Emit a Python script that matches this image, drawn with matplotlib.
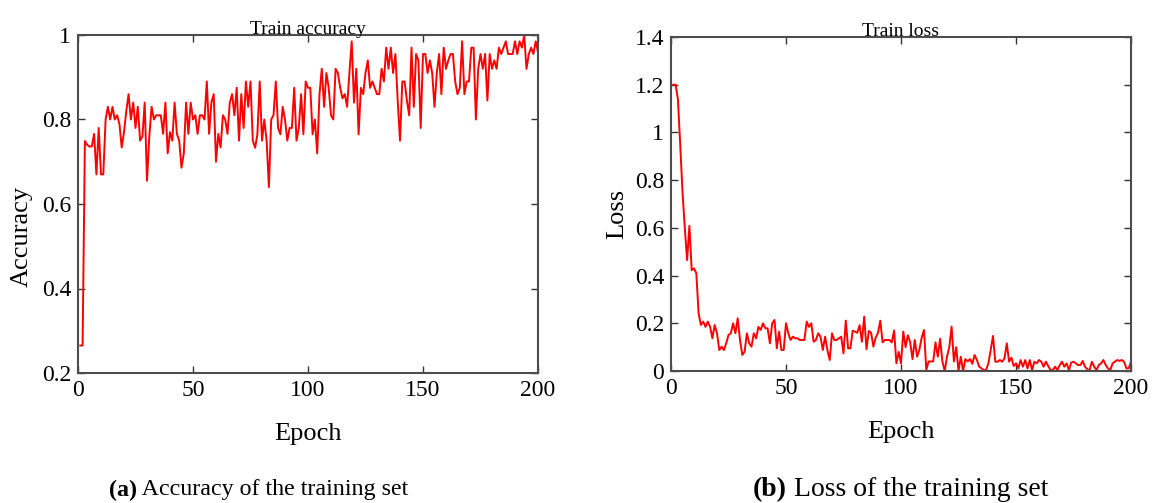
import matplotlib
matplotlib.use("Agg")
import matplotlib.pyplot as plt

plt.rcParams['font.family'] = ['Liberation Serif', 'DejaVu Serif']

acc = [0.265, 0.265, 0.749, 0.74, 0.736, 0.736, 0.766, 0.67, 0.78, 0.67,
       0.67, 0.80, 0.83, 0.80, 0.83, 0.80, 0.81, 0.79, 0.734, 0.77,
       0.82, 0.86, 0.80, 0.84, 0.78, 0.83, 0.75, 0.76, 0.84, 0.655,
       0.76, 0.83, 0.80, 0.81, 0.81, 0.81, 0.766, 0.84, 0.72, 0.77,
       0.75, 0.84, 0.766, 0.75, 0.686, 0.72, 0.84, 0.766, 0.84, 0.80,
       0.81, 0.766, 0.81, 0.81, 0.80, 0.89, 0.766, 0.84, 0.86, 0.70,
       0.766, 0.734, 0.81, 0.80, 0.766, 0.84, 0.86, 0.81, 0.875, 0.75,
       0.86, 0.78, 0.89, 0.83, 0.89, 0.75, 0.733, 0.765, 0.89, 0.75,
       0.80, 0.75, 0.64, 0.80, 0.81, 0.89, 0.78, 0.765, 0.83, 0.80,
       0.75, 0.78, 0.78, 0.875, 0.75, 0.78, 0.86, 0.765, 0.89, 0.875,
       0.875, 0.765, 0.80, 0.72, 0.86, 0.92, 0.83, 0.91, 0.875, 0.81,
       0.80, 0.92, 0.91, 0.875, 0.85, 0.86, 0.83, 0.91, 0.985, 0.84,
       0.92, 0.765, 0.875, 0.86, 0.91, 0.94, 0.875, 0.89, 0.875, 0.86,
       0.86, 0.92, 0.89, 0.97, 0.92, 0.97, 0.91, 0.955, 0.845, 0.75,
       0.89, 0.89, 0.845, 0.81, 0.97, 0.83, 0.955, 0.94, 0.78, 0.955,
       0.955, 0.91, 0.94, 0.91, 0.83, 0.91, 0.955, 0.86, 0.97, 0.92,
       0.94, 0.955, 0.955, 0.89, 0.86, 0.875, 0.985, 0.86, 0.89, 0.89,
       0.97, 0.97, 0.80, 0.92, 0.955, 0.92, 0.955, 0.845, 0.955, 0.92,
       0.94, 0.92, 0.97, 0.955, 0.97, 0.985, 0.955, 0.955, 0.955, 0.985,
       0.955, 0.985, 0.97, 1.0, 0.92, 0.955, 0.97, 0.955, 0.985, 0.96]

loss = [1.2, 1.2, 1.14, 0.95, 0.75, 0.60, 0.465, 0.608, 0.423, 0.43,
        0.41, 0.242, 0.193, 0.207, 0.185, 0.207, 0.185, 0.137, 0.193, 0.158,
        0.088, 0.102, 0.088, 0.116, 0.151, 0.158, 0.2, 0.158, 0.221, 0.13,
        0.067, 0.081, 0.158, 0.116, 0.102, 0.158, 0.137, 0.185, 0.172, 0.2,
        0.179, 0.179, 0.116, 0.2, 0.214, 0.095, 0.165, 0.088, 0.088, 0.2,
        0.158, 0.13, 0.144, 0.137, 0.137, 0.13, 0.13, 0.13, 0.207, 0.185,
        0.2, 0.123, 0.13, 0.158, 0.144, 0.088, 0.144, 0.088, 0.046, 0.158,
        0.13, 0.13, 0.137, 0.144, 0.074, 0.211, 0.095, 0.095, 0.169, 0.165,
        0.16, 0.192, 0.123, 0.228, 0.091, 0.168, 0.16, 0.102, 0.14, 0.16,
        0.211, 0.12, 0.13, 0.13, 0.13, 0.12, 0.17, 0.032, 0.08, 0.032,
        0.165, 0.10, 0.15, 0.12, 0.05, 0.13, 0.06, 0.09, 0.14, 0.172,
        0.004, 0.04, 0.04, 0.04, 0.12, 0.06, 0.135, 0.04, 0.0, 0.06,
        0.10, 0.186, 0.04, 0.10, 0.0, 0.06, 0.0, 0.05, 0.04, 0.05,
        0.03, 0.067, 0.046, 0.018, 0.011, 0.004, 0.004, 0.032, 0.088, 0.147,
        0.039, 0.039, 0.046, 0.039, 0.053, 0.116, 0.039, 0.056, 0.021, 0.032,
        0.011, 0.046, 0.018, 0.046, 0.011, 0.046, 0.004, 0.039, 0.032, 0.046,
        0.039, 0.018, 0.039, 0.021, 0.004, 0.004, 0.018, 0.004, 0.025, 0.039,
        0.018, 0.032, 0.004, 0.035, 0.039, 0.032, 0.025, 0.025, 0.042, 0.018,
        0.007, 0.004, 0.039, 0.018, 0.004, 0.025, 0.032, 0.046, 0.025, 0.011,
        0.004, 0.032, 0.039, 0.046, 0.042, 0.046, 0.039, 0.011, 0.011, 0.039]

epochs = list(range(1, len(acc) + 1))
epochs_loss = list(range(1, len(loss) + 1))

acc_yticks = [0.2, 0.4, 0.6, 0.8, 1.0]
acc_yticklabels = ['0.2', '0.4', '0.6', '0.8', '1']
loss_yticks = [0, 0.2, 0.4, 0.6, 0.8, 1.0, 1.2, 1.4]
loss_yticklabels = ['0', '0.2', '0.4', '0.6', '0.8', '1', '1.2', '1.4']
xticks = [0, 50, 100, 150, 200]

W, H = 1153, 503
fig = plt.figure(figsize=(W / 100, H / 100), dpi=100)

ax1 = fig.add_axes([78 / W, (H - 373) / H, 460 / W, 338 / H])
ax2 = fig.add_axes([671 / W, (H - 371) / H, 460 / W, 334 / H])

spine_color = '#4d4d4d'
for ax in (ax1, ax2):
    for s in ax.spines.values():
        s.set_color(spine_color)
        s.set_linewidth(1.5)
    ax.tick_params(direction='in', top=True, right=True, length=5,
                   width=1.0, color='#333333', labelsize=17, pad=5)
    ax.set_xticks(xticks)
    ax.set_xlim(0, 200)

ax1.plot(epochs, acc, color='#ff0000', lw=1.4)
ax1.set_ylim(0.2, 1.0)
ax1.set_yticks(acc_yticks)
ax1.set_yticklabels(acc_yticklabels)
ax1.set_title('Train accuracy', fontsize=14, pad=1)
ax1.set_xlabel('Epoch', fontsize=19, labelpad=16)
ax1.set_ylabel('Accuracy', fontsize=19)
ax1.yaxis.set_label_coords(-0.098, 0.405)

ax2.plot(epochs_loss, loss, color='#ff0000', lw=1.4)
ax2.set_ylim(0, 1.4)
ax2.set_yticks(loss_yticks)
ax2.set_yticklabels(loss_yticklabels)
ax2.set_title('Train loss', fontsize=14, pad=1)
ax2.set_xlabel('Epoch', fontsize=19, labelpad=16)
ax2.set_ylabel('Loss', fontsize=19)
ax2.yaxis.set_label_coords(-0.094, 0.47)


def caption(xc, label, rest, size):
    fig.text(xc, 1 - 490 / H, label, fontsize=size, fontweight='bold', ha='right', va='center')
    fig.text(xc, 1 - 490 / H, ' ' + rest, fontsize=size, ha='left', va='center')


caption(137 / W, '(a)', 'Accuracy of the training set', 17.3)
caption(787 / W, '(b)', 'Loss of the training set', 20)

fig.savefig('out.png', dpi=100)
